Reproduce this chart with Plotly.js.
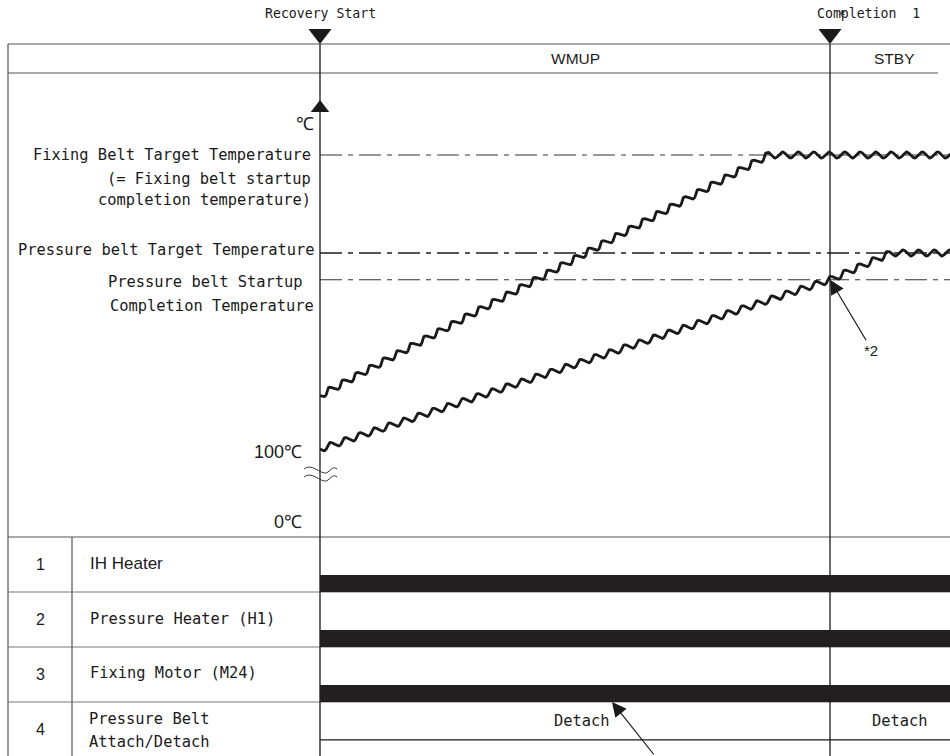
<!DOCTYPE html>
<html>
<head>
<meta charset="utf-8">
<script src="https://cdn.plot.ly/plotly-3.0.1.min.js"></script>
<style>html,body{margin:0;padding:0;background:#fff}#chart{width:950px;height:756px}</style>
</head>
<body>
<div id="chart"></div>
<script>
// ---------------- DATA ----------------
const T_COMPLETE = 100;           // time of startup completion (arbitrary time units)
const T_END = 125;                // end of the displayed time window
const eventTimes = [0, T_COMPLETE];
const eventLabels = ['Recovery Start', 'Completion  1'];
const phaseNames = ['WMUP', 'STBY'];
const phaseStart = [0, T_COMPLETE];
const phaseEnd = [T_COMPLETE, T_END];

const levelNames = ['Fixing Belt Target Temperature', 'Pressure belt Target Temperature', 'Pressure belt Startup Completion Temperature'];
const levelTemps = [200, 167, 158];   // schematic °C

const fixingTime = [0, 88, T_END];
const fixingTemp = [119, 200, 200];
const pressureTime = [0, 100, 112, T_END];
const pressureTemp = [101, 158, 167, 167];

const signalNums = ['1', '2', '3', '4'];
const signalNames = ['IH Heater', 'Pressure Heater (H1)', 'Fixing Motor (M24)', 'Pressure Belt<br>Attach/Detach'];
const signalOnStart = [0, 0, 0, null];
const signalOnEnd = [T_END, T_END, T_END, null];
const beltStateNames = ['Detach', 'Detach'];
const beltStateStart = [0, T_COMPLETE];
const beltStateEnd = [T_COMPLETE, T_END];

// ---------------- GEOMETRY (style) ----------------
const W = 950, H = 756;
const X0PX = 320, PX_PER_T = 5.1;
const T100PX = 452, PX_PER_DEG = 2.97;
const ROW0PX = 537, ROWPX = 55;
const xr = [-X0PX / PX_PER_T, (W - X0PX) / PX_PER_T];
const yr = [100 - (H - T100PX) / PX_PER_DEG, 100 + T100PX / PX_PER_DEG];
const y2r = [(H - ROW0PX) / ROWPX, (0 - ROW0PX) / ROWPX];
const P = px => px / W;
const Q = py => 1 - py / H;
const tToPx = t => X0PX + t * PX_PER_T;
const pxToT = px => (px - X0PX) / PX_PER_T;
const degToPy = d => T100PX - (d - 100) * PX_PER_DEG;
const pyToDeg = py => 100 + (T100PX - py) / PX_PER_DEG;
const pyToRow = py => (py - ROW0PX) / ROWPX;

const MONO = 'DejaVu Sans Mono, Liberation Mono, monospace';
const SANS = 'Liberation Sans, Arial, sans-serif';
const INK = '#1a1a1a';

// wavy line style: draws the polyline through the key points with a ripple
function wavyStyle(ts, vs, amp, lambda) {
  const pts = ts.map((t, i) => [tToPx(t), degToPy(vs[i])]);
  const xs = [], ys = [];
  let s = 0;
  for (let i = 0; i < pts.length - 1; i++) {
    const [x0, y0] = pts[i], [x1, y1] = pts[i + 1];
    const L = Math.hypot(x1 - x0, y1 - y0);
    const ux = (x1 - x0) / L, uy = (y1 - y0) / L;
    const nx = -uy, ny = ux;
    for (let d = 0; d < L; d += 0.8) {
      const off = amp * Math.sin(2 * Math.PI * (s + d) / lambda);
      const px = x0 + ux * d + nx * off, py = y0 + uy * d + ny * off;
      xs.push(pxToT(px)); ys.push(pyToDeg(py));
    }
    s += L;
  }
  return {x: xs, y: ys};
}

const traces = [];
// target temperature lines
levelTemps.forEach((v, i) => {
  traces.push({x: [0, T_END], y: [v, v], mode: 'lines', xaxis: 'x', yaxis: 'y',
    line: {color: i === 1 ? '#555' : '#333', width: i === 1 ? 1.8 : 1.2, dash: '22px,6px,5px,6px'},
    hoverinfo: 'skip', showlegend: false});
});
// temperature curves
[[fixingTime, fixingTemp], [pressureTime, pressureTemp]].forEach(([t, v]) => {
  const w = wavyStyle(t, v, 3, 15.5);
  traces.push({x: w.x, y: w.y, mode: 'lines', xaxis: 'x', yaxis: 'y',
    line: {color: INK, width: 2.8}, hoverinfo: 'skip', showlegend: false});
});
// event triangles (down) and temp axis arrow (up)
traces.push({x: eventTimes, y: eventTimes.map(() => pyToRow(34)), xaxis: 'x', yaxis: 'y2', mode: 'markers',
  marker: {symbol: 'triangle-down', size: 20, color: INK}, hoverinfo: 'skip', showlegend: false});
traces.push({x: [0], y: [pyToRow(108)], xaxis: 'x', yaxis: 'y2', mode: 'markers',
  marker: {symbol: 'triangle-up', size: 16, color: INK}, hoverinfo: 'skip', showlegend: false});

const shapes = [];
const gline = (x0, y0, x1, y1, color, width) => shapes.push({type: 'line', xref: 'paper', yref: 'paper',
  x0: P(x0), y0: Q(y0), x1: P(x1), y1: Q(y1), line: {color: color || '#555', width: width || 1.2}, layer: 'below'});
// table frame
gline(8, 44, 950, 44);
gline(8, 73, 938, 73);
gline(8, 44, 8, 756);
gline(8, 537, 950, 537);
gline(8, 592, 950, 592, '#777', 1);
gline(8, 647, 950, 647, '#777', 1);
gline(8, 702, 950, 702, '#777', 1);
gline(72, 537, 72, 756);
// event lines
eventTimes.forEach(t => shapes.push({type: 'line', xref: 'x', yref: 'paper', x0: t, x1: t, y0: Q(44), y1: 0,
  line: {color: INK, width: 1.3}, layer: 'above'}));
// axis break symbol (two thin waves)
[470, 478].forEach(py => {
  const pt = (x, y) => P(x).toFixed(5) + ',' + Q(y).toFixed(5);
  shapes.push({type: 'path', xref: 'paper', yref: 'paper', layer: 'above',
    path: 'M' + pt(304, py - 1) + ' C' + pt(313, py - 8) + ' ' + pt(322, py + 7) + ' ' + pt(328, py + 2) +
          ' S' + pt(334, py - 3) + ' ' + pt(337, py - 1),
    line: {color: '#333', width: 1}});
});
// ON bars for signals 1-3
signalOnStart.forEach((s, i) => {
  if (s === null) return;
  shapes.push({type: 'rect', xref: 'x', yref: 'y2', x0: s, x1: signalOnEnd[i], y0: i + 1 - 0.31, y1: i + 1,
    fillcolor: '#231f20', line: {width: 0}, layer: 'above'});
});
// belt detach level line
shapes.push({type: 'line', xref: 'x', yref: 'y2', x0: beltStateStart[0], x1: beltStateEnd[1], y0: 3.69, y1: 3.69,
  line: {color: INK, width: 1.2}});

const annotations = [];
const txt = (text, xpx, ypx, font, xanchor, extra) => annotations.push(Object.assign({text, xref: 'paper', yref: 'paper',
  x: P(xpx), y: Q(ypx), xanchor: xanchor || 'center', yanchor: 'middle', showarrow: false, font}, extra || {}));
const fMonoS = {family: MONO, size: 13.2, color: INK};
const fMono = {family: MONO, size: 15.4, color: INK};

// event labels
annotations.push({text: eventLabels[0], xref: 'x', yref: 'paper', x: eventTimes[0], y: Q(14), xanchor: 'center', yanchor: 'middle', showarrow: false, font: fMonoS});
annotations.push({text: eventLabels[1], xref: 'paper', yref: 'paper', x: P(815), y: Q(14), xanchor: 'left', yanchor: 'middle', showarrow: false, font: fMonoS});
txt('*', 842, 15, fMonoS);
// phase labels
phaseNames.forEach((n, i) => annotations.push({text: n, xref: 'x', yref: 'paper', x: (phaseStart[i] + phaseEnd[i]) / 2,
  y: Q(58), xanchor: 'center', yanchor: 'middle', showarrow: false, font: {family: SANS, size: 15.5, color: INK}}));
// temperature labels
txt('℃', 316, 124, {family: SANS, size: 18, color: INK}, 'right');
txt(levelNames[0], 313, 155, fMono, 'right');
txt('(= Fixing belt startup', 313, 179, fMono, 'right');
txt('completion temperature)', 313, 200, fMono, 'right');
txt(levelNames[1], 317, 250, fMono, 'right');
txt('Pressure belt Startup', 305, 282, fMono, 'right');
txt('Completion Temperature', 316, 306, fMono, 'right');
txt('100℃', 304, 452, {family: SANS, size: 18, color: INK}, 'right');
txt('0℃', 304, 522, {family: SANS, size: 18, color: INK}, 'right');
// *2 arrow
annotations.push({text: '', xref: 'x', yref: 'y', x: T_COMPLETE, y: levelTemps[2], ax: 37, ay: 62, showarrow: true,
  arrowhead: 2, arrowsize: 2.4, arrowwidth: 1.2, arrowcolor: INK});
txt('*2', 871, 350, {family: SANS, size: 15, color: INK});
// signal rows
signalNums.forEach((n, i) => txt(n, 40, ROW0PX + ROWPX * i + 27, {family: SANS, size: 16, color: INK}));
txt(signalNames[0], 88, 563, {family: SANS, size: 17, color: INK}, 'left');
txt(signalNames[1], 88, 619, fMono, 'left');
txt(signalNames[2], 88, 673, fMono, 'left');
txt('Pressure Belt', 87, 719, fMono, 'left');
txt('Attach/Detach', 87, 742, fMono, 'left');
beltStateNames.forEach((n, i) => annotations.push({text: n, xref: 'x', yref: 'y2', x: (beltStateStart[i] + beltStateEnd[i]) / 2 + 1.3,
  y: pyToRow(721), xanchor: 'center', yanchor: 'middle', showarrow: false, font: fMono}));
// detach arrow
annotations.push({text: '', xref: 'x', yref: 'y2', x: pxToT(612), y: 3.0, ax: 43, ay: 56, showarrow: true,
  arrowhead: 2, arrowsize: 2.4, arrowwidth: 1.2, arrowcolor: INK});

const layout = {
  width: W, height: H, margin: {l: 0, r: 0, t: 0, b: 0},
  paper_bgcolor: '#fff', plot_bgcolor: '#fff', showlegend: false,
  xaxis: {range: xr, visible: false, fixedrange: true},
  yaxis: {range: yr, visible: false, fixedrange: true},
  yaxis2: {range: y2r, visible: false, overlaying: 'y', fixedrange: true},
  shapes, annotations
};
Plotly.newPlot('chart', traces, layout, {staticPlot: true, displayModeBar: false});
</script>
</body>
</html>
